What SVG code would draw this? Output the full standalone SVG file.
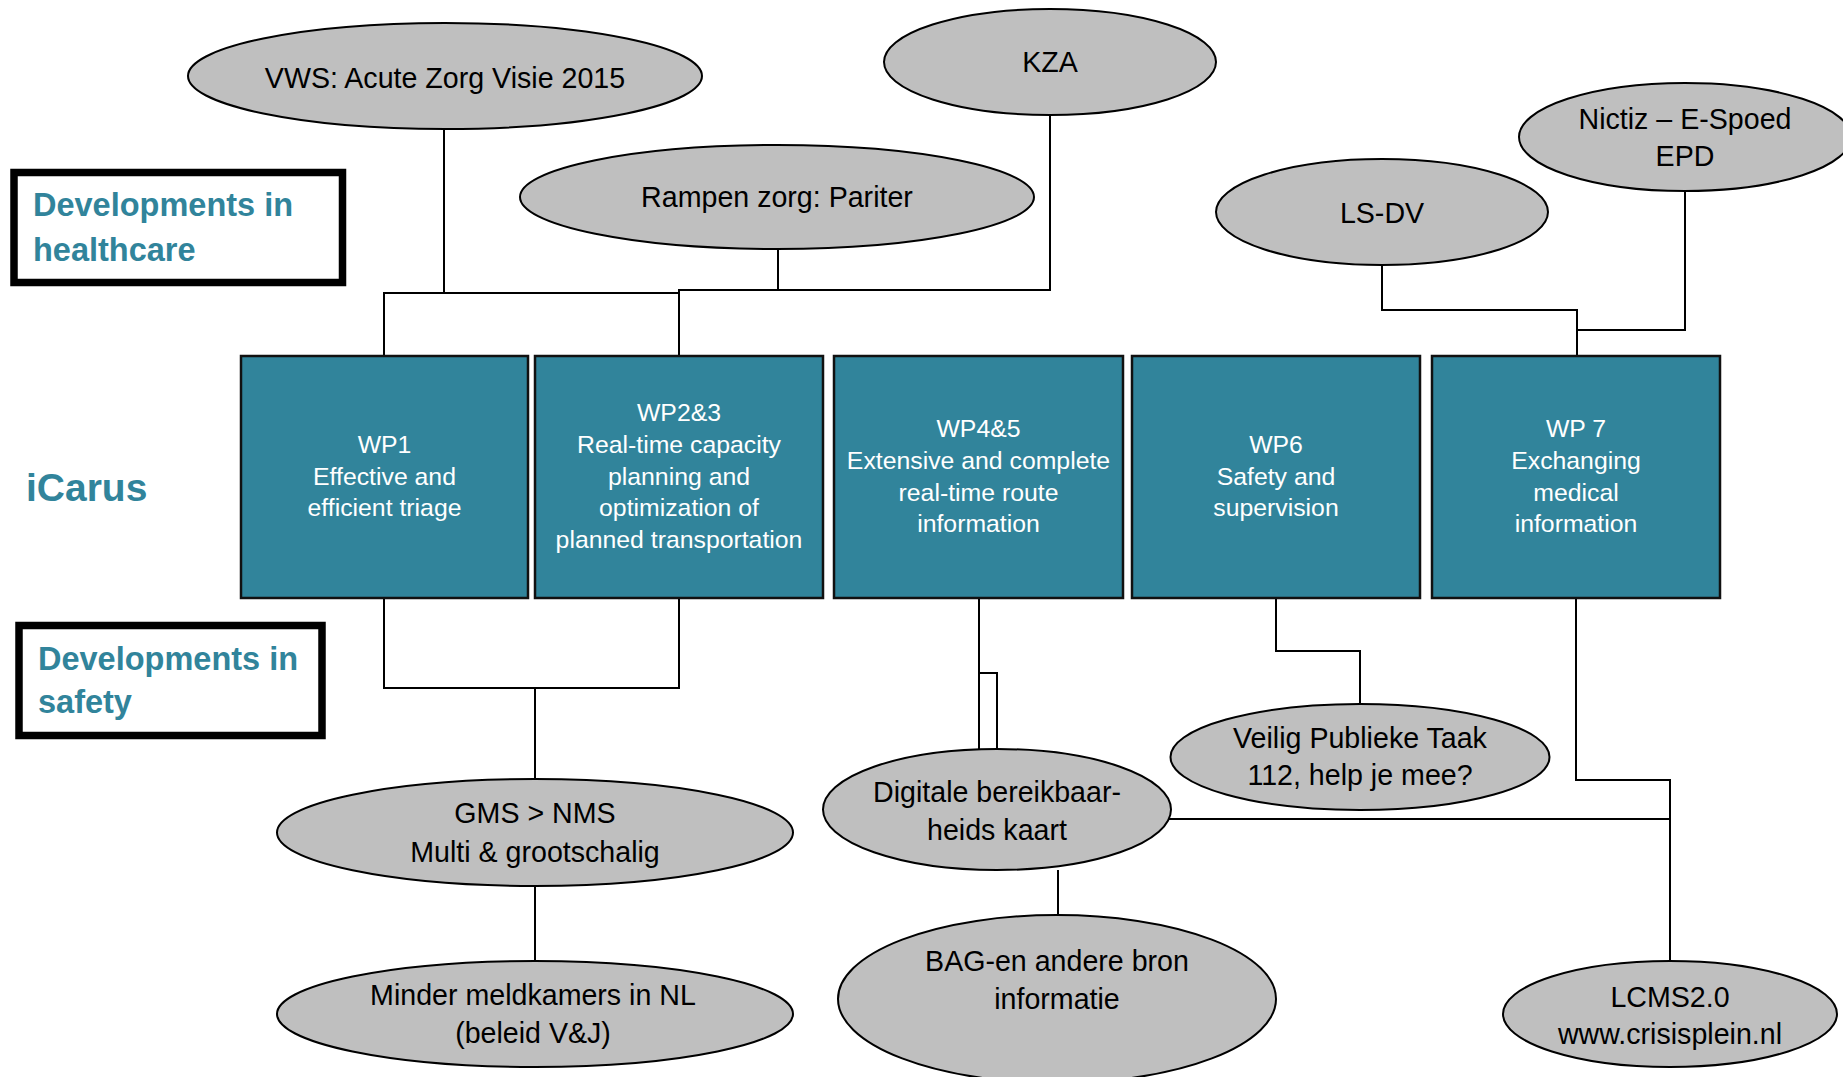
<svg xmlns="http://www.w3.org/2000/svg" width="1843" height="1077" viewBox="0 0 1843 1077">
<style>
.bg{fill:#ffffff}
.conn{fill:none;stroke:#000;stroke-width:2}
.ell{fill:#bfbfbf;stroke:#000;stroke-width:2}
.wp{fill:#31849b;stroke:#111;stroke-width:2.5}
.frame{fill:#fff;stroke:#000;stroke-width:7.5}
.et{font-family:"Liberation Sans",Arial,sans-serif;font-size:28.6px;fill:#000;text-anchor:middle}
.wt{font-family:"Liberation Sans",Arial,sans-serif;font-size:24.8px;fill:#fff;text-anchor:middle}
.ht{font-family:"Liberation Sans",Arial,sans-serif;font-size:32.5px;font-weight:bold;fill:#31849b}
</style>
<rect class="bg" x="0" y="0" width="1843" height="1077"/>
<g id="connectors">
<path class="conn" d="M384,356 V293 H679"/>
<path class="conn" d="M444,129 V293"/>
<path class="conn" d="M679,356 V290 H1050 V115"/>
<path class="conn" d="M778,250 V290"/>
<path class="conn" d="M1382,266 V310 H1577 V356"/>
<path class="conn" d="M1685,191 V330 H1577"/>
<path class="conn" d="M384,598 V688 H679 V598"/>
<path class="conn" d="M535,688 V779"/>
<path class="conn" d="M535,886 V961"/>
<path class="conn" d="M979,598 V749"/>
<path class="conn" d="M979,673 H997 V749"/>
<path class="conn" d="M1058,870 V915"/>
<path class="conn" d="M1276,598 V651 H1360 V704"/>
<path class="conn" d="M1576,598 V780 H1670 V961"/>
<path class="conn" d="M1165,819 H1670"/>
</g>
<g id="label-healthcare">
<rect class="frame" x="14" y="172.5" width="328.5" height="110"/>
<text class="ht" x="33" y="216">Developments in</text>
<text class="ht" x="33" y="261">healthcare</text>
</g>
<g id="label-safety">
<rect class="frame" x="19" y="625.5" width="303" height="110"/>
<text class="ht" x="38" y="670">Developments in</text>
<text class="ht" x="38" y="713">safety</text>
</g>
<g id="label-icarus">
<text class="ht" x="26" y="501" style="font-size:39px">iCarus</text>
</g>
<g id="node-vws">
<ellipse class="ell" cx="445" cy="76" rx="257" ry="53"/>
<text class="et" x="445" y="88">VWS: Acute Zorg Visie 2015</text>
</g>
<g id="node-kza">
<ellipse class="ell" cx="1050" cy="62" rx="166" ry="53"/>
<text class="et" x="1050" y="72">KZA</text>
</g>
<g id="node-rampen">
<ellipse class="ell" cx="777" cy="197" rx="257" ry="52"/>
<text class="et" x="777" y="207">Rampen zorg: Pariter</text>
</g>
<g id="node-nictiz">
<ellipse class="ell" cx="1685" cy="137" rx="166" ry="54"/>
<text class="et" x="1685" y="129">Nictiz – E-Spoed</text>
<text class="et" x="1685" y="166">EPD</text>
</g>
<g id="node-lsdv">
<ellipse class="ell" cx="1382" cy="212" rx="166" ry="53"/>
<text class="et" x="1382" y="223">LS-DV</text>
</g>
<g id="node-wp1">
<rect class="wp" x="241" y="356" width="287" height="242"/>
<text class="wt" x="384.5" y="453">WP1</text>
<text class="wt" x="384.5" y="485">Effective and</text>
<text class="wt" x="384.5" y="516">efficient triage</text>
</g>
<g id="node-wp23">
<rect class="wp" x="535" y="356" width="288" height="242"/>
<text class="wt" x="679" y="421">WP2&amp;3</text>
<text class="wt" x="679" y="453">Real-time capacity</text>
<text class="wt" x="679" y="485">planning and</text>
<text class="wt" x="679" y="516">optimization of</text>
<text class="wt" x="679" y="548">planned transportation</text>
</g>
<g id="node-wp45">
<rect class="wp" x="834" y="356" width="289" height="242"/>
<text class="wt" x="978.5" y="437">WP4&amp;5</text>
<text class="wt" x="978.5" y="469">Extensive and complete</text>
<text class="wt" x="978.5" y="501">real-time route</text>
<text class="wt" x="978.5" y="532">information</text>
</g>
<g id="node-wp6">
<rect class="wp" x="1132" y="356" width="288" height="242"/>
<text class="wt" x="1276" y="453">WP6</text>
<text class="wt" x="1276" y="485">Safety and</text>
<text class="wt" x="1276" y="516">supervision</text>
</g>
<g id="node-wp7">
<rect class="wp" x="1432" y="356" width="288" height="242"/>
<text class="wt" x="1576" y="437">WP 7</text>
<text class="wt" x="1576" y="469">Exchanging</text>
<text class="wt" x="1576" y="501">medical</text>
<text class="wt" x="1576" y="532">information</text>
</g>
<g id="node-gms">
<ellipse class="ell" cx="535" cy="832.5" rx="258" ry="53.5"/>
<text class="et" x="535" y="823">GMS &gt; NMS</text>
<text class="et" x="535" y="862">Multi &amp; grootschalig</text>
</g>
<g id="node-minder">
<ellipse class="ell" cx="535" cy="1014" rx="258" ry="53"/>
<text class="et" x="533" y="1005">Minder meldkamers in NL</text>
<text class="et" x="533" y="1043">(beleid V&amp;J)</text>
</g>
<g id="node-digitale">
<ellipse class="ell" cx="997" cy="809.5" rx="174" ry="60.5"/>
<text class="et" x="997" y="802">Digitale bereikbaar-</text>
<text class="et" x="997" y="840">heids kaart</text>
</g>
<g id="node-bag">
<ellipse class="ell" cx="1057" cy="999" rx="219" ry="84"/>
<text class="et" x="1057" y="971">BAG-en andere bron</text>
<text class="et" x="1057" y="1009">informatie</text>
</g>
<g id="node-veilig">
<ellipse class="ell" cx="1360" cy="757" rx="189.5" ry="53"/>
<text class="et" x="1360" y="748">Veilig Publieke Taak</text>
<text class="et" x="1360" y="785">112, help je mee?</text>
</g>
<g id="node-lcms">
<ellipse class="ell" cx="1670" cy="1014" rx="167" ry="53"/>
<text class="et" x="1670" y="1007">LCMS2.0</text>
<text class="et" x="1670" y="1044">www.crisisplein.nl</text>
</g>
</svg>
